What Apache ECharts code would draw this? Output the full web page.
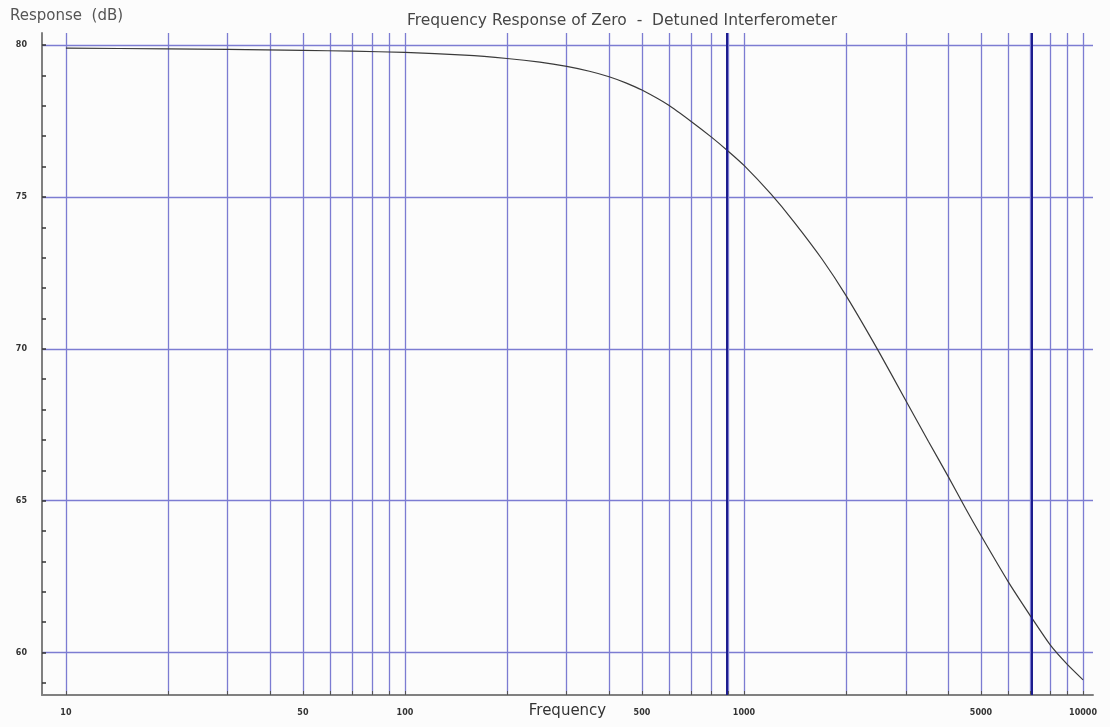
<!DOCTYPE html>
<html>
<head>
<meta charset="utf-8">
<script src="https://cdn.jsdelivr.net/npm/echarts@6/dist/echarts.min.js"></script>
<style>
  html, body { margin: 0; padding: 0; background: #fcfcfc; }
  #chart { width: 1110px; height: 727px; }
</style>
</head>
<body>
<div id="chart"></div>
<script>
// frequency (Hz) and response (dB)
const freqs = [10, 20, 30, 50, 70, 100, 150, 200, 250, 300, 350, 400, 450, 500, 600, 700, 800, 900,
  1000, 1200, 1400, 1700, 2000, 2500, 3000, 3500, 4000, 4500, 5000, 6000, 7000, 8000, 9000, 10000]
const response = [79.9, 79.88, 79.86, 79.83, 79.8, 79.76, 79.67, 79.56, 79.44, 79.3, 79.14, 78.96, 78.75, 78.52,
  78.02, 77.48, 76.98, 76.5, 76.04, 75.1, 74.2, 72.95, 71.75, 69.9, 68.3, 66.95, 65.8, 64.75, 63.85,
  62.35, 61.2, 60.25, 59.6, 59.1]

const gridFreqs = [10, 20, 30, 40, 50, 60, 70, 80, 90,
  100, 200, 300, 400, 500, 600, 700, 800, 900,
  1000, 2000, 3000, 4000, 5000, 6000, 7000, 8000, 9000, 10000]
const freqLabels = [10, 50, 100, 500, 1000, 5000, 10000]
const darkFreqs = [900, 7000]
const dbLabels = [60, 65, 70, 75, 80]
const dbMinorTicks = [59, 60, 61, 62, 63, 64, 65, 66, 67, 68, 69, 70, 71, 72, 73, 74, 75, 76, 77, 78, 79, 80]

const lg = v => Math.log10(v)
const xMin = lg(8.5)
const xMax = lg(10700)
const yMin = 58.6
const yMax = 80.4
const gridBlue = '#7c7cd2'
const font = 'DejaVu Sans, sans-serif'

const chart = echarts.init(document.getElementById('chart'))
const option = {
  backgroundColor: '#fcfcfc',
  animation: false,
  title: [
    {
      text: 'Frequency Response of Zero  -  Detuned Interferometer',
      left: 622,
      top: 13,
      textAlign: 'center',
      padding: 0,
      textStyle: { fontFamily: font, fontSize: 15.5, fontWeight: 'normal', color: '#464646' }
    },
    {
      text: 'Response  (dB)',
      left: 10,
      top: 9,
      padding: 0,
      textStyle: { fontFamily: font, fontSize: 15, fontWeight: 'normal', color: '#555' }
    }
  ],
  grid: { left: 42, right: 17, top: 33, bottom: 32, outerBoundsMode: 'none', containLabel: false },
  xAxis: {
    type: 'value',
    min: xMin,
    max: xMax,
    name: 'Frequency',
    nameLocation: 'middle',
    nameGap: 9,
    nameMoveOverlap: false,
    nameTextStyle: { fontFamily: font, fontSize: 15, color: '#333', verticalAlign: 'top' },
    axisLine: { show: true, onZero: false, lineStyle: { color: '#808080', width: 2 } },
    axisTick: {
      show: true,
      inside: true,
      length: 4,
      customValues: gridFreqs.map(lg),
      lineStyle: { color: '#555', width: 1 }
    },
    axisLabel: {
      customValues: freqLabels.map(lg),
      formatter: v => String(Math.round(Math.pow(10, v))),
      margin: 14,
      fontFamily: font,
      fontSize: 8,
      fontWeight: 'bold',
      color: '#333'
    },
    splitLine: { show: true, lineStyle: { color: gridBlue, width: 1.3 } }
  },
  yAxis: [
    {
      type: 'value',
      min: yMin,
      max: yMax,
      axisLine: { show: true, lineStyle: { color: '#808080', width: 2 } },
      axisTick: {
        show: true,
        inside: true,
        length: 4,
        customValues: dbMinorTicks,
        lineStyle: { color: '#333', width: 1.5 }
      },
      axisLabel: { show: false },
      splitLine: { show: false }
    },
    {
      type: 'value',
      position: 'left',
      min: yMin,
      max: yMax,
      axisLine: { show: false },
      axisTick: { show: false, customValues: dbLabels },
      axisLabel: {
        customValues: dbLabels,
        margin: 15,
        fontFamily: font,
        fontSize: 8,
        fontWeight: 'bold',
        color: '#333'
      },
      splitLine: { show: true, lineStyle: { color: gridBlue, width: 1.3 } }
    }
  ],
  series: [
    {
      type: 'line',
      yAxisIndex: 0,
      data: freqs.map((f, i) => [lg(f), response[i]]),
      smooth: 0.2,
      showSymbol: false,
      lineStyle: { color: '#3a3a3a', width: 1.2 },
      markLine: {
        silent: true,
        symbol: 'none',
        label: { show: false },
        lineStyle: { color: '#1c1c8e', width: 2, type: 'solid' },
        data: darkFreqs.map(f => ({ xAxis: lg(f) }))
      }
    }
  ]
}
chart.setOption(option)
</script>
</body>
</html>
